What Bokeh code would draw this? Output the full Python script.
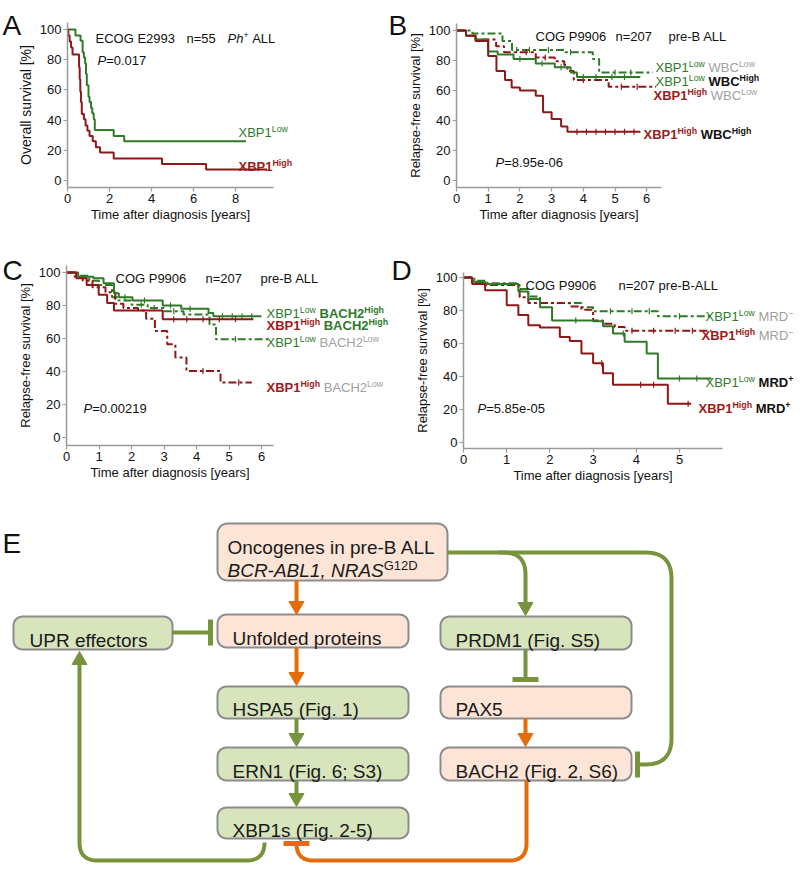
import math
from bokeh.plotting import figure
from bokeh.models import Range1d, FixedTicker, Label
from bokeh.layouts import column, row
from bokeh.embed import file_html
from bokeh.resources import INLINE

FONT = "Liberation Sans"

# ------------------------------------------------------------------ data
# Panel A  (ECOG E2993, overall survival)
A_low_t = [0, 0.38, 0.62, 0.72, 0.78, 0.84, 0.88, 0.92, 1.0, 1.05, 1.12, 1.18, 1.25, 1.3, 2.2, 2.7, 8.5]
A_low_s = [100, 96, 92.5, 85, 81.5, 77.5, 70.5, 63, 55.5, 52, 48, 44.5, 40.5, 33.5, 29.5, 26, 26]
A_high_t = [0, 0.04, 0.1, 0.17, 0.24, 0.55, 0.58, 0.61, 0.64, 0.68, 0.78, 0.86, 0.95, 1.05, 1.2, 1.35, 1.55, 2.2, 4.5, 6.6, 9.5]
A_high_s = [100, 96, 92, 88, 83.5, 75, 67, 59, 52, 44, 40.5, 36.5, 33, 29.5, 26, 22, 18.5, 14.5, 11, 7.3, 7.3]

# Panel B  (XBP1 x WBC)
B_ll_t = [0, 0.5, 1.45, 1.75, 3.4, 4.3, 4.5, 6.2]
B_ll_s = [100, 98, 93, 87, 85.5, 81, 72, 72]
B_lh_t = [0, 0.3, 0.6, 1.0, 1.3, 1.8, 2.5, 3.1, 3.6, 3.8, 5.8]
B_lh_s = [100, 96.5, 94, 86, 84, 81, 78, 75.5, 72, 69, 69]
B_hl_t = [0, 0.3, 0.6, 1.25, 1.5, 2.5, 3.1, 3.4, 3.5, 3.7, 4.8, 6.3]
B_hl_s = [100, 96.5, 94, 89.5, 85.5, 82, 79.5, 77, 73, 67, 62.5, 62.5]
B_hh_t = [0, 0.3, 0.6, 1.0, 1.26, 1.53, 1.74, 2.0, 2.5, 2.73, 3.0, 3.3, 3.5, 5.8]
B_hh_s = [100, 96.5, 93, 83, 73, 67, 62, 60, 56.5, 45.5, 41, 36, 32.5, 32.5]
B_ll_c = [1.9, 2.3, 2.9, 3.6, 5.0, 5.5]
B_lh_c = [2.0, 2.7, 3.3, 4.0, 4.4, 4.9, 5.3]
B_hl_c = [2.2, 2.8, 4.0, 5.2, 5.7]
B_hh_c = [3.8, 4.1, 4.4, 4.7, 5.0, 5.3, 5.6]

# Panel C  (XBP1 x BACH2)
C_lh_t = [0, 0.36, 0.83, 1.14, 1.46, 1.61, 2.03, 2.96, 3.53, 4.37, 4.52, 6.0]
C_lh_s = [100, 97.5, 96.5, 93.5, 87.5, 85, 83, 80, 78, 75.5, 73.5, 73.5]
C_hh_t = [0, 0.3, 0.62, 0.99, 1.25, 1.46, 2.96, 5.75]
C_hh_s = [100, 96.5, 92.5, 86.5, 81.5, 77, 71.7, 71.7]
C_ll_t = [0, 0.3, 0.7, 1.0, 1.4, 1.6, 2.0, 2.5, 3.0, 3.6, 4.4, 4.6, 6.2]
C_ll_s = [100, 98, 95, 92.5, 85, 83, 80.5, 78.5, 76.5, 74.5, 68.5, 59.5, 59.5]
C_hl_t = [0, 0.25, 0.5, 0.8, 1.2, 1.5, 1.75, 2.2, 2.45, 2.72, 3.1, 3.35, 3.69, 4.74, 5.7]
C_hl_s = [100, 97.5, 95, 91, 88, 81, 78.5, 77, 72, 64.5, 56.5, 48.5, 40.3, 33.3, 33.3]
C_lh_c = [1.8, 2.4, 3.2, 3.8, 4.8, 5.1, 5.4, 5.7]
C_hh_c = [3.3, 3.7, 4.2, 4.7, 5.2]
C_ll_c = [2.3, 2.7, 3.3, 5.2]
C_hl_c = [4.2, 5.3]

# Panel D  (XBP1 x MRD)
D_ll_t = [0, 0.25, 0.55, 1.27, 1.5, 1.77, 2.73, 3.0, 4.5, 5.74]
D_ll_s = [100, 98, 96.5, 93, 88.5, 84.5, 82, 79.5, 76.5, 76.5]
D_hl_t = [0, 0.2, 0.5, 1.3, 1.5, 2.46, 2.73, 3.0, 3.23, 3.5, 3.73, 5.74]
D_hl_s = [100, 97, 95.5, 88, 84.5, 82.5, 80.5, 74, 72, 70, 67.7, 67.7]
D_lh_t = [0, 0.2, 0.5, 1.27, 1.5, 1.77, 2.05, 3.0, 3.23, 3.46, 3.73, 4.24, 4.5, 5.74]
D_lh_s = [100, 97.5, 96, 91.5, 87, 82, 74, 73.5, 70.5, 66, 61, 54, 38.8, 38.8]
D_hh_t = [0, 0.2, 0.5, 1.0, 1.27, 1.5, 1.77, 2.23, 2.46, 2.73, 3.0, 3.23, 3.46, 4.73, 5.27]
D_hh_s = [100, 96, 92.3, 83.2, 77.2, 71.1, 69.7, 64, 61.5, 54, 48, 42, 35, 23.5, 23.5]
D_ll_c = [3.4, 3.9, 4.3, 5.0]
D_hl_c = [3.9, 4.4, 4.9, 5.3]
D_lh_c = [2.6, 3.7, 5.0, 5.4]
D_hh_c = [3.2, 4.1, 4.4, 5.2]

Y_TICKS = [0, 20, 40, 60, 80, 100]
A_X_TICKS = [0, 2, 4, 6, 8]
B_X_TICKS = [0, 1, 2, 3, 4, 5, 6]
C_X_TICKS = [0, 1, 2, 3, 4, 5, 6]
D_X_TICKS = [0, 1, 2, 3, 4, 5]

# Diagram nodes
BOX_LABELS = ["", "Unfolded proteins", "HSPA5 (Fig. 1)", "ERN1 (Fig. 6; S3)", "XBP1s (Fig. 2-5)",
              "UPR effectors", "PRDM1 (Fig. S5)", "PAX5", "BACH2 (Fig. 2, S6)"]
BOX_KIND = ["onc", "onc", "upr", "upr", "upr", "upr", "upr", "onc", "onc"]

# ------------------------------------------------------------------ styles
GREEN = "#2f7a26"
RED = "#8e1717"
GREEN_TXT = "#2e7a2a"
RED_TXT = "#9e1b1b"
GREY_TXT = "#a0a0a0"
BLACK = "#111111"
AXIS = "#9a9a9a"
DASHDOT = "8 3 3 3"
ORANGE = "#e46c0a"
OLIVE = "#77933c"
FILL = {"onc": "#fce4d6", "upr": "#d8e4bc"}
BORDER = "#8c8c8c"

REGW = {' ': 278, '%': 889, '(': 333, ')': 333, '+': 584, ',': 278, '-': 333, '.': 278, ';': 278,
        '=': 584, '[': 278, ']': 278, '\u2212': 584,
        'A': 667, 'B': 667, 'C': 722, 'D': 722, 'E': 667, 'F': 611, 'G': 778, 'H': 722, 'I': 278,
        'J': 500, 'K': 667, 'L': 556, 'M': 833, 'N': 722, 'O': 778, 'P': 667, 'Q': 778, 'R': 722,
        'S': 667, 'T': 611, 'U': 722, 'V': 667, 'W': 944, 'X': 667, 'Y': 667, 'Z': 611,
        'a': 556, 'b': 556, 'c': 500, 'd': 556, 'e': 556, 'f': 278, 'g': 556, 'h': 556, 'i': 222,
        'j': 222, 'k': 500, 'l': 222, 'm': 833, 'n': 556, 'o': 556, 'p': 556, 'q': 556, 'r': 333,
        's': 500, 't': 278, 'u': 556, 'v': 500, 'w': 722, 'x': 500, 'y': 500, 'z': 500}
BOLDW = dict(REGW)
BOLDW.update({'A': 722, 'B': 722, 'L': 611, 'b': 611, 'd': 611, 'g': 611, 'h': 611, 'i': 278,
              'l': 278, 'n': 611, 'o': 611, 'r': 389, 's': 556, 't': 333, 'u': 611, 'w': 778,
              'c': 556, 'p': 611, 'q': 611, 'v': 556, 'y': 556, 'x': 556})


def tw(text, size, bold=False):
    tbl = BOLDW if bold else REGW
    return sum(tbl.get(c, 556) for c in text) * size / 1000.0


def rich(p, conv, px, py, segs, size=13):
    """segs: (text, color, flags) with flags containing b (bold), i (italic), s (superscript)."""
    x, y = conv(px, py)
    off = 0.0
    for seg in segs:
        text = seg[0]
        color = seg[1] if len(seg) > 1 else BLACK
        flags = seg[2] if len(seg) > 2 else ""
        bold, italic, sup = "b" in flags, "i" in flags, "s" in flags
        fs = size * 0.68 if sup else size
        if text.strip():
            style = "bold italic" if (bold and italic) else "bold" if bold else "italic" if italic else "normal"
            yoff = -0.36 * size + (0.716 * (size - fs) if sup else 0.0)
            p.add_layout(Label(x=x, y=y, x_offset=off, y_offset=yoff, text=text, text_font=FONT,
                               text_font_size=f"{fs:.1f}px", text_font_style=style,
                               text_color=color, text_align="left", text_baseline="alphabetic"))
        off += tw(text, fs, bold)


def surv_at(t, s, c):
    v = s[0]
    for ti, si in zip(t, s):
        if ti <= c:
            v = si
    return v


def km_fig(fig, x0p, sx, y0p, sy, axis_y_page, x_end, y_top, xticks, ylab, ylab_size=13):
    """Frame covers the whole figure; axes are placed at fixed data locations."""
    fx, fy, fw, fh = fig
    xr = ((fx - x0p) / sx, (fx + fw - x0p) / sx)
    yr = ((y0p - (fy + fh)) / sy, (y0p - fy) / sy)
    p = figure(width=fw, height=fh, x_range=Range1d(*xr), y_range=Range1d(*yr),
               output_backend="svg", toolbar_location=None,
               min_border=0, min_border_left=0, min_border_right=0,
               min_border_top=0, min_border_bottom=0)
    p.grid.visible = False
    p.outline_line_color = None
    y_axis_val = (y0p - axis_y_page) / sy
    p.xaxis.fixed_location = y_axis_val
    p.yaxis.fixed_location = 0
    p.xaxis.bounds = (0, x_end)
    p.yaxis.bounds = (y_axis_val, y_top)
    p.xaxis.ticker = FixedTicker(ticks=xticks)
    p.yaxis.ticker = FixedTicker(ticks=Y_TICKS)
    p.xaxis.axis_label = "Time after diagnosis [years]"
    p.yaxis.axis_label = ylab
    for ax in p.axis:
        ax.axis_line_color = AXIS
        ax.axis_line_width = 1.5
        ax.major_tick_line_color = AXIS
        ax.major_tick_line_width = 1.2
        ax.major_tick_in = 0
        ax.major_tick_out = 4
        ax.minor_tick_in = 0
        ax.minor_tick_out = 0
        ax.major_label_text_font = FONT
        ax.major_label_text_font_size = "13px"
        ax.major_label_text_color = BLACK
        ax.major_label_standoff = 2
        ax.axis_label_text_font = FONT
        ax.axis_label_text_font_size = "13px"
        ax.axis_label_text_font_style = "normal"
        ax.axis_label_text_color = BLACK
        ax.axis_label_standoff = 3
    p.xaxis.axis_label_standoff = 1
    p.yaxis.axis_label_text_font_size = f"{ylab_size}px"

    def conv(px, py):
        return ((px - x0p) / sx, (y0p - py) / sy)
    return p, conv


def curve(p, t, s, color, dash="solid", cens=None):
    p.step(t, s, mode="after", line_color=color, line_width=2, line_dash=dash)
    if cens:
        ys = [surv_at(t, s, c) for c in cens]
        p.scatter(cens, ys, marker="dash", angle=math.pi / 2, size=6, line_color=color, line_width=1.2)


def title3(p, conv, pieces, py):
    for px, segs in pieces:
        rich(p, conv, px, py, segs, 13)


ROW2_H = 262
E_TOP = 228 + ROW2_H
E_H = 864 - E_TOP

# ------------------------------------------------------------------ Panel A
pA, cA = km_fig((0, 0, 386, 228), 67, 21.0, 180, 1.51, 187, 9.81, 104.6, A_X_TICKS,
                "Overall survival [%]", 14)
curve(pA, A_low_t, A_low_s, GREEN)
curve(pA, A_high_t, A_high_s, RED)
rich(pA, cA, 2, 15, [("A", BLACK)], 28)
title3(pA, cA, [(95, [("ECOG E2993", BLACK)]), (186, [("n=55", BLACK)]),
                (227, [("Ph", BLACK, "i"), ("+", BLACK, "s"), (" ",), ("ALL", BLACK)])], 33)
rich(pA, cA, 97, 55, [("P", BLACK, "i"), ("=0.017", BLACK)])
rich(pA, cA, 238, 127, [("XBP1", GREEN_TXT), ("Low", GREEN_TXT, "s")])
rich(pA, cA, 238, 161, [("XBP1", RED_TXT, "b"), ("High", RED_TXT, "bs")])

# ------------------------------------------------------------------ Panel B
pB, cB = km_fig((386, 0, 408, 228), 456, 31.7, 180, 1.5, 187, 6.47, 104.7, B_X_TICKS,
                "Relapse-free survival [%]")
curve(pB, B_ll_t, B_ll_s, GREEN, DASHDOT, B_ll_c)
curve(pB, B_hl_t, B_hl_s, RED, DASHDOT, B_hl_c)
curve(pB, B_lh_t, B_lh_s, GREEN, "solid", B_lh_c)
curve(pB, B_hh_t, B_hh_s, RED, "solid", B_hh_c)
rich(pB, cB, 388, 15, [("B", BLACK)], 28)
title3(pB, cB, [(535, [("COG P9906", BLACK)]), (615, [("n=207", BLACK)]), (668, [("pre-B ALL", BLACK)])], 31)
rich(pB, cB, 655, 62, [("XBP1", GREEN_TXT), ("Low", GREEN_TXT, "s"), (" ",), ("WBC", GREY_TXT), ("Low", GREY_TXT, "s")])
rich(pB, cB, 655, 76, [("XBP1", GREEN_TXT), ("Low", GREEN_TXT, "s"), (" ",), ("WBC", BLACK, "b"), ("High", BLACK, "bs")])
rich(pB, cB, 653, 90, [("XBP1", RED_TXT, "b"), ("High", RED_TXT, "bs"), (" ",), ("WBC", GREY_TXT), ("Low", GREY_TXT, "s")])
rich(pB, cB, 643, 129, [("XBP1", RED_TXT, "b"), ("High", RED_TXT, "bs"), (" ",), ("WBC", BLACK, "b"), ("High", BLACK, "bs")])
rich(pB, cB, 495, 157, [("P", BLACK, "i"), ("=8.95e-06", BLACK)])

# ------------------------------------------------------------------ Panel C
pC, cC = km_fig((0, 228, 389, ROW2_H), 66, 32.5, 437, 1.65, 445, 6.37, 104.2, C_X_TICKS,
                "Relapse-free survival [%]")
curve(pC, C_ll_t, C_ll_s, GREEN, DASHDOT, C_ll_c)
curve(pC, C_hl_t, C_hl_s, RED, DASHDOT, C_hl_c)
curve(pC, C_lh_t, C_lh_s, GREEN, "solid", C_lh_c)
curve(pC, C_hh_t, C_hh_s, RED, "solid", C_hh_c)
rich(pC, cC, 2, 260, [("C", BLACK)], 28)
title3(pC, cC, [(115, [("COG P9906", BLACK)]), (205, [("n=207", BLACK)]), (260, [("pre-B ALL", BLACK)])], 273)
rich(pC, cC, 266, 308, [("XBP1", GREEN_TXT), ("Low", GREEN_TXT, "s"), (" ",), ("BACH2", GREEN_TXT, "b"), ("High", GREEN_TXT, "bs")])
rich(pC, cC, 266, 320, [("XBP1", RED_TXT, "b"), ("High", RED_TXT, "bs"), (" ",), ("BACH2", GREEN_TXT, "b"), ("High", GREEN_TXT, "bs")])
rich(pC, cC, 266, 337, [("XBP1", GREEN_TXT), ("Low", GREEN_TXT, "s"), (" ",), ("BACH2", GREY_TXT), ("Low", GREY_TXT, "s")])
rich(pC, cC, 266, 382, [("XBP1", RED_TXT, "b"), ("High", RED_TXT, "bs"), (" ",), ("BACH2", GREY_TXT), ("Low", GREY_TXT, "s")])
rich(pC, cC, 83, 403, [("P", BLACK, "i"), ("=0.00219", BLACK)])

# ------------------------------------------------------------------ Panel D
pD, cD = km_fig((389, 228, 405, ROW2_H), 463, 43.2, 442, 1.65, 448, 6.0, 103.0, D_X_TICKS,
                "Relapse-free survival [%]")
curve(pD, D_ll_t, D_ll_s, GREEN, DASHDOT, D_ll_c)
curve(pD, D_hl_t, D_hl_s, RED, DASHDOT, D_hl_c)
curve(pD, D_lh_t, D_lh_s, GREEN, "solid", D_lh_c)
curve(pD, D_hh_t, D_hh_s, RED, "solid", D_hh_c)
rich(pD, cD, 391, 260, [("D", BLACK)], 28)
title3(pD, cD, [(525, [("COG P9906", BLACK)]), (618, [("n=207 pre-B-ALL", BLACK)])], 280)
rich(pD, cD, 705, 311, [("XBP1", GREEN_TXT), ("Low", GREEN_TXT, "s"), (" ",), ("MRD", GREY_TXT), ("\u2212", GREY_TXT, "s")])
rich(pD, cD, 701, 330, [("XBP1", RED_TXT, "b"), ("High", RED_TXT, "bs"), (" ",), ("MRD", GREY_TXT), ("\u2212", GREY_TXT, "s")])
rich(pD, cD, 705, 377, [("XBP1", GREEN_TXT), ("Low", GREEN_TXT, "s"), (" ",), ("MRD", BLACK, "b"), ("+", BLACK, "bs")])
rich(pD, cD, 698, 403, [("XBP1", RED_TXT, "b"), ("High", RED_TXT, "bs"), (" ",), ("MRD", BLACK, "b"), ("+", BLACK, "bs")])
rich(pD, cD, 477, 403, [("P", BLACK, "i"), ("=5.85e-05", BLACK)])

# ------------------------------------------------------------------ Panel E (diagram, page coordinates)
pE = figure(width=794, height=E_H, x_range=Range1d(0, 794), y_range=Range1d(864, E_TOP),
            x_axis_type=None, y_axis_type=None, output_backend="svg", toolbar_location=None,
            min_border=0, min_border_left=0, min_border_right=0, min_border_top=0, min_border_bottom=0)
pE.grid.visible = False
pE.outline_line_color = None


def cE(px, py):
    return px, py


BOX_L = [217, 217, 217, 217, 217, 13, 440, 440, 440]
BOX_R = [447, 408, 408, 408, 408, 172, 631, 631, 631]
BOX_T = [523, 614, 686, 747, 807, 616, 616, 686, 747]
BOX_B = [580, 647, 718, 780, 838, 649, 649, 718, 780]
BOX_TX = [227, 232, 232, 232, 232, 29, 455, 455, 455]


def rrect(l, r, t, b, rad=9):
    xs, ys = [], []
    corners = [(r - rad, t + rad, -90, 0), (r - rad, b - rad, 0, 90),
               (l + rad, b - rad, 90, 180), (l + rad, t + rad, 180, 270)]
    for cx, cy, a0, a1 in corners:
        for k in range(9):
            a = math.radians(a0 + (a1 - a0) * k / 8)
            xs.append(cx + rad * math.cos(a))
            ys.append(cy + rad * math.sin(a))
    return xs, ys


bx, by, bf = [], [], []
for i in range(len(BOX_L)):
    xs, ys = rrect(BOX_L[i], BOX_R[i], BOX_T[i], BOX_B[i], 10 if i == 0 else 9)
    bx.append(xs)
    by.append(ys)
    bf.append(FILL[BOX_KIND[i]])
pE.patches(bx, by, fill_color=bf, line_color=BORDER, line_width=2)

for i, lab in enumerate(BOX_LABELS):
    if lab:
        rich(pE, cE, BOX_TX[i], (BOX_T[i] + BOX_B[i]) / 2 + 0.5, [(lab, "#1a1a1a")], 19)
rich(pE, cE, 227, 540, [("Oncogenes in pre-B ALL", "#1a1a1a")], 19)
rich(pE, cE, 227, 563, [("BCR-ABL1, NRAS", "#1a1a1a", "i")], 19)
rich(pE, cE, 227 + tw("BCR-ABL1, NRAS", 19), 560, [("G12D", "#1a1a1a")], 13)
rich(pE, cE, 2, 533, [("E", BLACK)], 28)


def rounded_path(pts, r):
    xs, ys = [pts[0][0]], [pts[0][1]]
    for i in range(1, len(pts) - 1):
        (ax0, ay0), (vx, vy), (nx, ny) = pts[i - 1], pts[i], pts[i + 1]
        d1 = math.hypot(ax0 - vx, ay0 - vy)
        d2 = math.hypot(nx - vx, ny - vy)
        rr = min(r, d1, d2)
        ax, ay = vx + (ax0 - vx) / d1 * rr, vy + (ay0 - vy) / d1 * rr
        bx_, by_ = vx + (nx - vx) / d2 * rr, vy + (ny - vy) / d2 * rr
        for k in range(15):
            u = k / 14
            xs.append((1 - u) ** 2 * ax + 2 * (1 - u) * u * vx + u * u * bx_)
            ys.append((1 - u) ** 2 * ay + 2 * (1 - u) * u * vy + u * u * by_)
    xs.append(pts[-1][0])
    ys.append(pts[-1][1])
    return xs, ys


def head(tip, d, L=13, W=7.5):
    tx, ty = tip
    dx, dy = d
    cx, cy = tx - L * dx, ty - L * dy
    nx, ny = -dy, dx
    return [tx, cx + W * nx, cx - W * nx], [ty, cy + W * ny, cy - W * ny]


LOOP_Y = 860
# connectors: (points, colour, radius)
PATHS = [
    ([(296, 580), (296, 602)], ORANGE, 0),
    ([(296, 647), (296, 673)], ORANGE, 0),
    ([(296, 718), (296, 734)], OLIVE, 0),
    ([(296, 780), (296, 794)], OLIVE, 0),
    ([(172, 632), (210, 632)], OLIVE, 0),
    ([(264, 842), (264, LOOP_Y), (79, LOOP_Y), (79, 664)], OLIVE, 18),
    ([(526, 780), (526, LOOP_Y), (296, LOOP_Y), (296, 843)], ORANGE, 17),
    ([(447, 552), (671, 552), (671, 764), (638, 764)], OLIVE, 26),
    ([(498, 552), (525, 552), (525, 603)], OLIVE, 22),
    ([(525, 649), (525, 679)], OLIVE, 0),
    ([(525, 718), (525, 734)], ORANGE, 0),
]
mx, my, mc = [], [], []
for pts, col, rad in PATHS:
    xs, ys = rounded_path(pts, rad) if rad else ([q[0] for q in pts], [q[1] for q in pts])
    mx.append(xs)
    my.append(ys)
    mc.append(col)
pE.multi_line(mx, my, line_color=mc, line_width=4, line_join="round", line_cap="butt")

# inhibition bars
BARS = [
    ([(210, 619), (210, 645)], OLIVE),
    ([(283, 843), (309, 843)], ORANGE),
    ([(637, 751), (637, 777)], OLIVE),
    ([(512, 679), (538, 679)], OLIVE),
]
pE.multi_line([[b[0][0][0], b[0][1][0]] for b in BARS], [[b[0][0][1], b[0][1][1]] for b in BARS],
              line_color=[b[1] for b in BARS], line_width=5, line_cap="butt")

# arrow heads
HEADS = [((296, 614), (0, 1), ORANGE), ((296, 685), (0, 1), ORANGE), ((296, 746), (0, 1), OLIVE),
         ((296, 806), (0, 1), OLIVE), ((79, 651), (0, -1), OLIVE), ((525, 615), (0, 1), OLIVE),
         ((525, 746), (0, 1), ORANGE)]
hx, hy, hc = [], [], []
for tip, d, col in HEADS:
    xs, ys = head(tip, d)
    hx.append(xs)
    hy.append(ys)
    hc.append(col)
pE.patches(hx, hy, fill_color=hc, line_color=hc, line_width=1)

layout = column(row(pA, pB), row(pC, pD), pE)
open("out.html", "w").write(file_html(layout, INLINE))
